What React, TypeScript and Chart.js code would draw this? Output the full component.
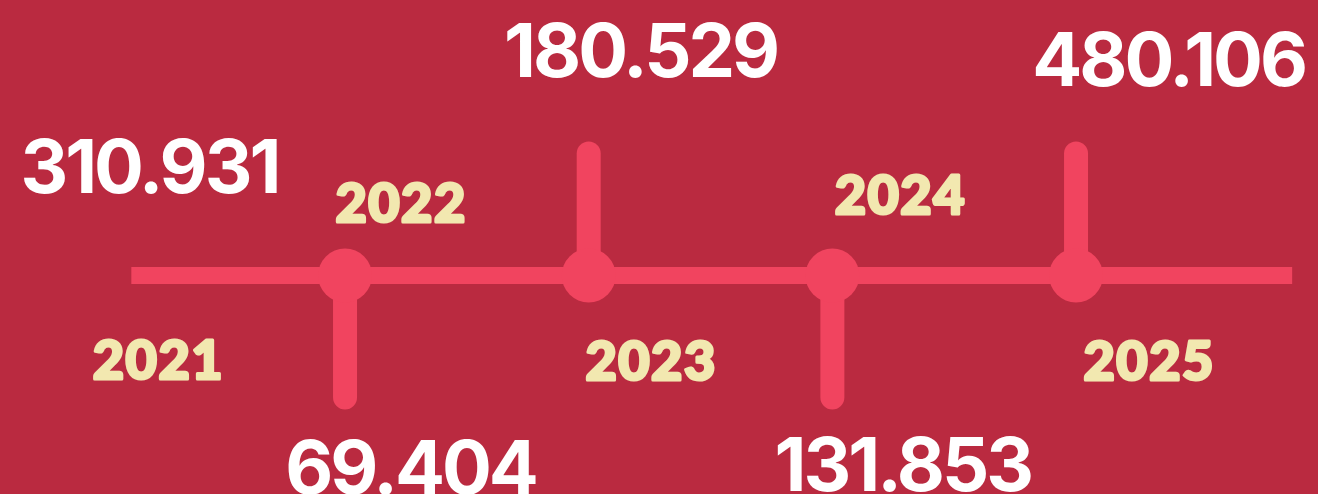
import React, { useEffect, useRef } from 'react';
import { Chart, registerables } from 'chart.js';

Chart.register(...registerables);

// ---- data ----
const YEARS = ['2021', '2022', '2023', '2024', '2025'];
const VALUES = [310931, 69404, 180529, 131853, 480106];
const STEM_SIDE = [0, -1, 1, -1, 1]; // 0 = no marker, 1 = stem up, -1 = stem down

// ---- layout / style ----
const W = 1318;
const H = 494;
const X_MIN = -0.416;
const X_MAX = 4.993;
const Y_MIN = -218.5;
const Y_MAX = 275.5;
const LINE_START = 0.123;
const LINE_END = 4.887;
const STEM_LEN = 122;
const YEAR_DX = [0.234, 0.23, 0.256, 0.279, 0.3];
const YEAR_Y = [-104.5, 52.5, -105.5, 60.5, -105.5];
const VALUE_DX = [0.197, 0.269, 0.213, 0.289, 0.38];
const VALUE_Y = [82.5, -218.5, 198.5, -215.5, 189.5];

const BG = '#BA2A40';
const ACCENT = '#F1445F';
const CREAM = '#F2E8B0';
const WHITE = '#FFFFFF';
const VALUE_FONT = '700 74px Inter';
const VALUE_SPACING = '-3px';
const YEAR_FONT = '900 54px Lato';
const YEAR_SPACING = '1.5px';
const YEAR_STROKE = 3;

const fmt = (n: number) => String(n).replace(/\B(?=(\d{3})+(?!\d))/g, '.');

const labelPlugin = {
  id: 'timelineLabels',
  afterDatasetsDraw(chart: any) {
    const { ctx, scales } = chart;
    const xs = scales.x;
    const ys = scales.y;
    ctx.save();
    ctx.textAlign = 'center';
    ctx.textBaseline = 'alphabetic';
    ctx.lineJoin = 'round';
    YEARS.forEach((yr, i) => {
      const yx = xs.getPixelForValue(i + YEAR_DX[i]);
      const yy = ys.getPixelForValue(YEAR_Y[i]) - YEAR_STROKE / 2;
      ctx.font = YEAR_FONT;
      ctx.letterSpacing = YEAR_SPACING;
      ctx.fillStyle = CREAM;
      ctx.strokeStyle = CREAM;
      ctx.lineWidth = YEAR_STROKE;
      ctx.fillText(yr, yx, yy);
      ctx.strokeText(yr, yx, yy);
      ctx.font = VALUE_FONT;
      ctx.letterSpacing = VALUE_SPACING;
      ctx.fillStyle = WHITE;
      ctx.fillText(fmt(VALUES[i]), xs.getPixelForValue(i + VALUE_DX[i]), ys.getPixelForValue(VALUE_Y[i]));
    });
    ctx.restore();
  },
};

export default function App() {
  const ref = useRef<HTMLCanvasElement | null>(null);

  useEffect(() => {
    document.body.style.margin = '0';
    document.body.style.background = BG;
    if (!ref.current) return;

    const datasets: any[] = [];
    datasets.push({
      label: 'markers',
      data: YEARS.map((_, i) => ({ x: i, y: 0 })).filter((_, i) => STEM_SIDE[i] !== 0),
      showLine: false,
      pointRadius: 27,
      pointHoverRadius: 27,
      pointBackgroundColor: ACCENT,
      pointBorderWidth: 0,
      borderWidth: 0,
      order: 0,
    });
    YEARS.forEach((_, i) => {
      if (STEM_SIDE[i] === 0) return;
      datasets.push({
        label: 'stem' + i,
        data: [
          { x: i, y: 0 },
          { x: i, y: STEM_SIDE[i] * STEM_LEN },
        ],
        borderColor: ACCENT,
        borderWidth: 24,
        borderCapStyle: 'round',
        pointRadius: 0,
        order: 1,
      });
    });
    datasets.push({
      label: 'axis',
      data: [
        { x: LINE_START, y: 0 },
        { x: LINE_END, y: 0 },
      ],
      borderColor: ACCENT,
      borderWidth: 17,
      borderCapStyle: 'butt',
      pointRadius: 0,
      order: 2,
    });

    const chart = new Chart(ref.current, {
      type: 'line',
      data: { datasets },
      options: {
        responsive: false,
        animation: false,
        events: [],
        clip: false,
        layout: { padding: 0, autoPadding: false },
        plugins: { legend: { display: false }, tooltip: { enabled: false } },
        scales: {
          x: { type: 'linear', min: X_MIN, max: X_MAX, display: false },
          y: { type: 'linear', min: Y_MIN, max: Y_MAX, display: false },
        },
      } as any,
      plugins: [labelPlugin],
    });

    if ((document as any).fonts) {
      Promise.all([
        (document as any).fonts.load(VALUE_FONT),
        (document as any).fonts.load(YEAR_FONT),
      ]).then(() => chart.draw()).catch(() => {});
    }

    return () => chart.destroy();
  }, []);

  return (
    <div style={{ width: W, height: H, background: BG, overflow: 'hidden' }}>
      <canvas ref={ref} width={W} height={H} style={{ display: 'block', width: W, height: H }} />
    </div>
  );
}
